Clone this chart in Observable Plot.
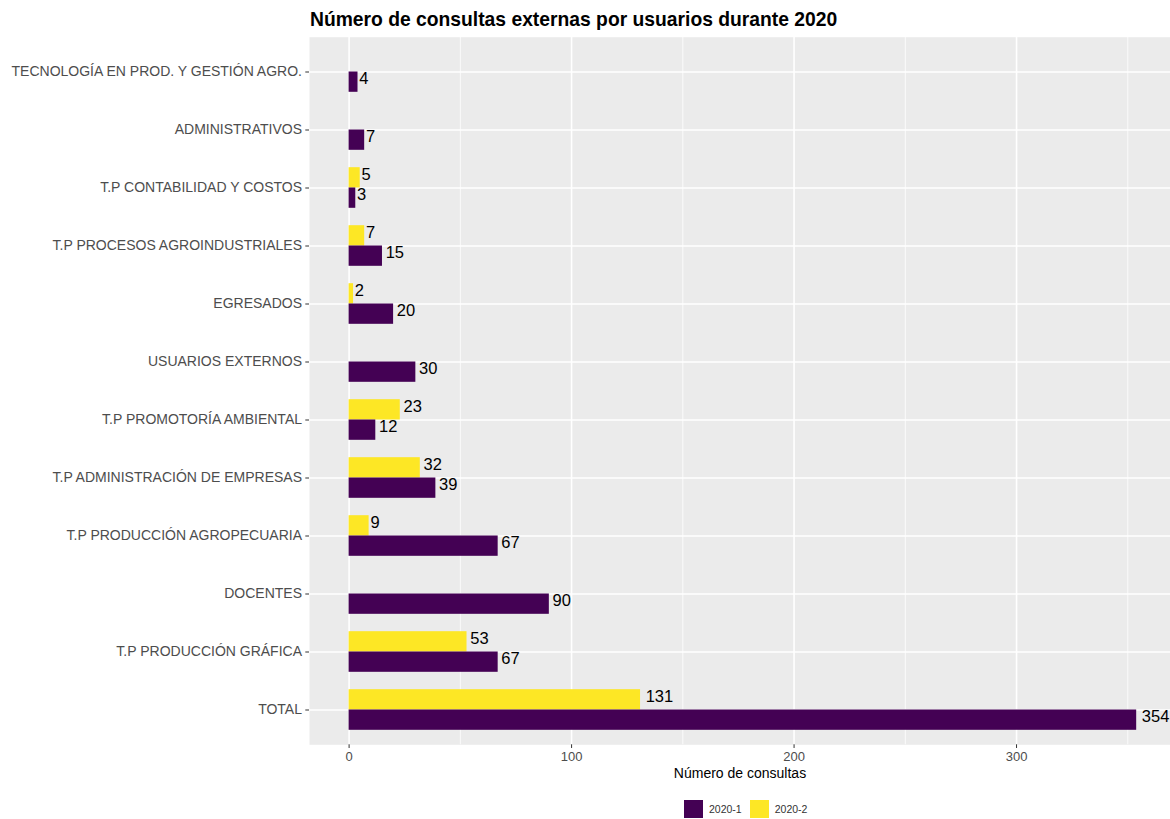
<!DOCTYPE html>
<html>
<head>
<meta charset="utf-8">
<script src="https://cdn.jsdelivr.net/npm/d3@7"></script>
<script src="https://cdn.jsdelivr.net/npm/@observablehq/plot@0.6"></script>
<style>
  html, body { margin: 0; padding: 0; background: #fff; overflow: hidden; }
  body { width: 1170px; height: 819px; position: relative; font-family: "Liberation Sans", Arial, sans-serif; }
  #title { height: 30px; box-sizing: border-box; padding-top: 9.7px; padding-left: 310px; font-size: 19.3px; font-weight: bold; line-height: 1; color: #000; white-space: nowrap; }
  #legend { position: absolute; left: 684px; top: 800px; display: flex; align-items: center; font-size: 10.5px; color: #333; }
  #legend .key { width: 19px; height: 18px; }
  #legend .lab { margin-left: 6px; margin-right: 8px; }
</style>
</head>
<body>
<div id="title">Número de consultas externas por usuarios durante 2020</div>
<div id="chart"></div>
<div id="legend"></div>
<script>
// ---- data ----
const categories = [
  "TECNOLOGÍA EN PROD. Y GESTIÓN AGRO.",
  "ADMINISTRATIVOS",
  "T.P CONTABILIDAD Y COSTOS",
  "T.P PROCESOS AGROINDUSTRIALES",
  "EGRESADOS",
  "USUARIOS EXTERNOS",
  "T.P PROMOTORÍA AMBIENTAL",
  "T.P ADMINISTRACIÓN DE EMPRESAS",
  "T.P PRODUCCIÓN AGROPECUARIA",
  "DOCENTES",
  "T.P PRODUCCIÓN GRÁFICA",
  "TOTAL"
];
const series = ["2020-1", "2020-2"];
const values2020_1 = [4, 7, 3, 15, 20, 30, 12, 39, 67, 90, 67, 354];
const values2020_2 = [null, null, 5, 7, 2, null, 23, 32, 9, null, 53, 131];
const colors = ["#440154", "#FDE725"];
const xTicks = [0, 100, 200, 300];
const xMinorTicks = [50, 150, 250, 350];

const rows1 = categories.map((c, i) => ({category: c, series: "2020-1", value: values2020_1[i]})).filter(d => d.value != null);
const rows2 = categories.map((c, i) => ({category: c, series: "2020-2", value: values2020_2[i]})).filter(d => d.value != null);

// ---- layout ----
const W = 1170, H = 765, mTop = 6.7, mBottom = 50.7, mLeft = 309, mRight = 0;
const innerH = H - mTop - mBottom;
const step = innerH / (categories.length + 0.2); // band step (ggplot 0.6 expansion)
const barW = 0.35 * step;
const outer = 0.5 * step - barW; // gap from band edge to bar group
const labelSize = 16.5;

const font = "Liberation Sans, Arial, sans-serif";

// value labels, offset like ggplot hjust = -0.2 (proportional to label length)
function labelMarks(rows, dy) {
  return [1, 2, 3].map(L => Plot.text(rows.filter(d => String(d.value).length === L), {
    x: "value", y: "category", text: d => String(d.value),
    textAnchor: "start", dx: 1.9 * L - 0.6, dy, fontSize: labelSize, fill: "#000"
  }));
}

const chart = Plot.plot({
  width: W,
  height: H,
  marginTop: mTop,
  marginBottom: mBottom,
  marginLeft: mLeft,
  marginRight: mRight,
  style: {fontFamily: font, background: "#fff", overflow: "visible"},
  x: {domain: [-17.8, 369.2]},
  y: {domain: categories, paddingInner: 0, paddingOuter: 0.1, round: false},
  color: {domain: series, range: colors},
  marks: [
    Plot.frame({fill: "#EBEBEB", stroke: null}),
    Plot.gridX(xMinorTicks, {stroke: "#fff", strokeOpacity: 1, strokeWidth: 0.8}),
    Plot.gridX(xTicks, {stroke: "#fff", strokeOpacity: 1, strokeWidth: 1.6}),
    Plot.gridY({stroke: "#fff", strokeOpacity: 1, strokeWidth: 1.6}),
    Plot.barX(rows2, {x: "value", y: "category", fill: "series", insetTop: outer, insetBottom: 0.5 * step}),
    Plot.barX(rows1, {x: "value", y: "category", fill: "series", insetTop: 0.5 * step, insetBottom: outer}),
    ...labelMarks(rows2, -barW / 2 - 3.5),
    ...labelMarks(rows1, barW / 2 - 3.5),
    Plot.axisX(xTicks, {tickSize: 3.7, tickPadding: 3, fontSize: 13, color: "#4D4D4D", stroke: "#333",
      label: "Número de consultas", labelAnchor: "center", labelArrow: "none", labelOffset: 33}),
    Plot.axisY({tickSize: 3.7, tickPadding: 3.8, fontSize: 14, color: "#4D4D4D", stroke: "#333", label: null})
  ]
});
document.getElementById("chart").appendChild(chart);

// x axis label: black, slightly larger
chart.querySelectorAll("[aria-label='x-axis label']").forEach(el => { el.setAttribute("fill", "#000"); el.setAttribute("font-size", "14"); });

// ---- legend ----
const legend = document.getElementById("legend");
series.forEach((s, i) => {
  const k = document.createElement("div");
  k.className = "key";
  k.style.background = colors[i];
  const l = document.createElement("div");
  l.className = "lab";
  l.textContent = s;
  legend.appendChild(k);
  legend.appendChild(l);
});
</script>
</body>
</html>
